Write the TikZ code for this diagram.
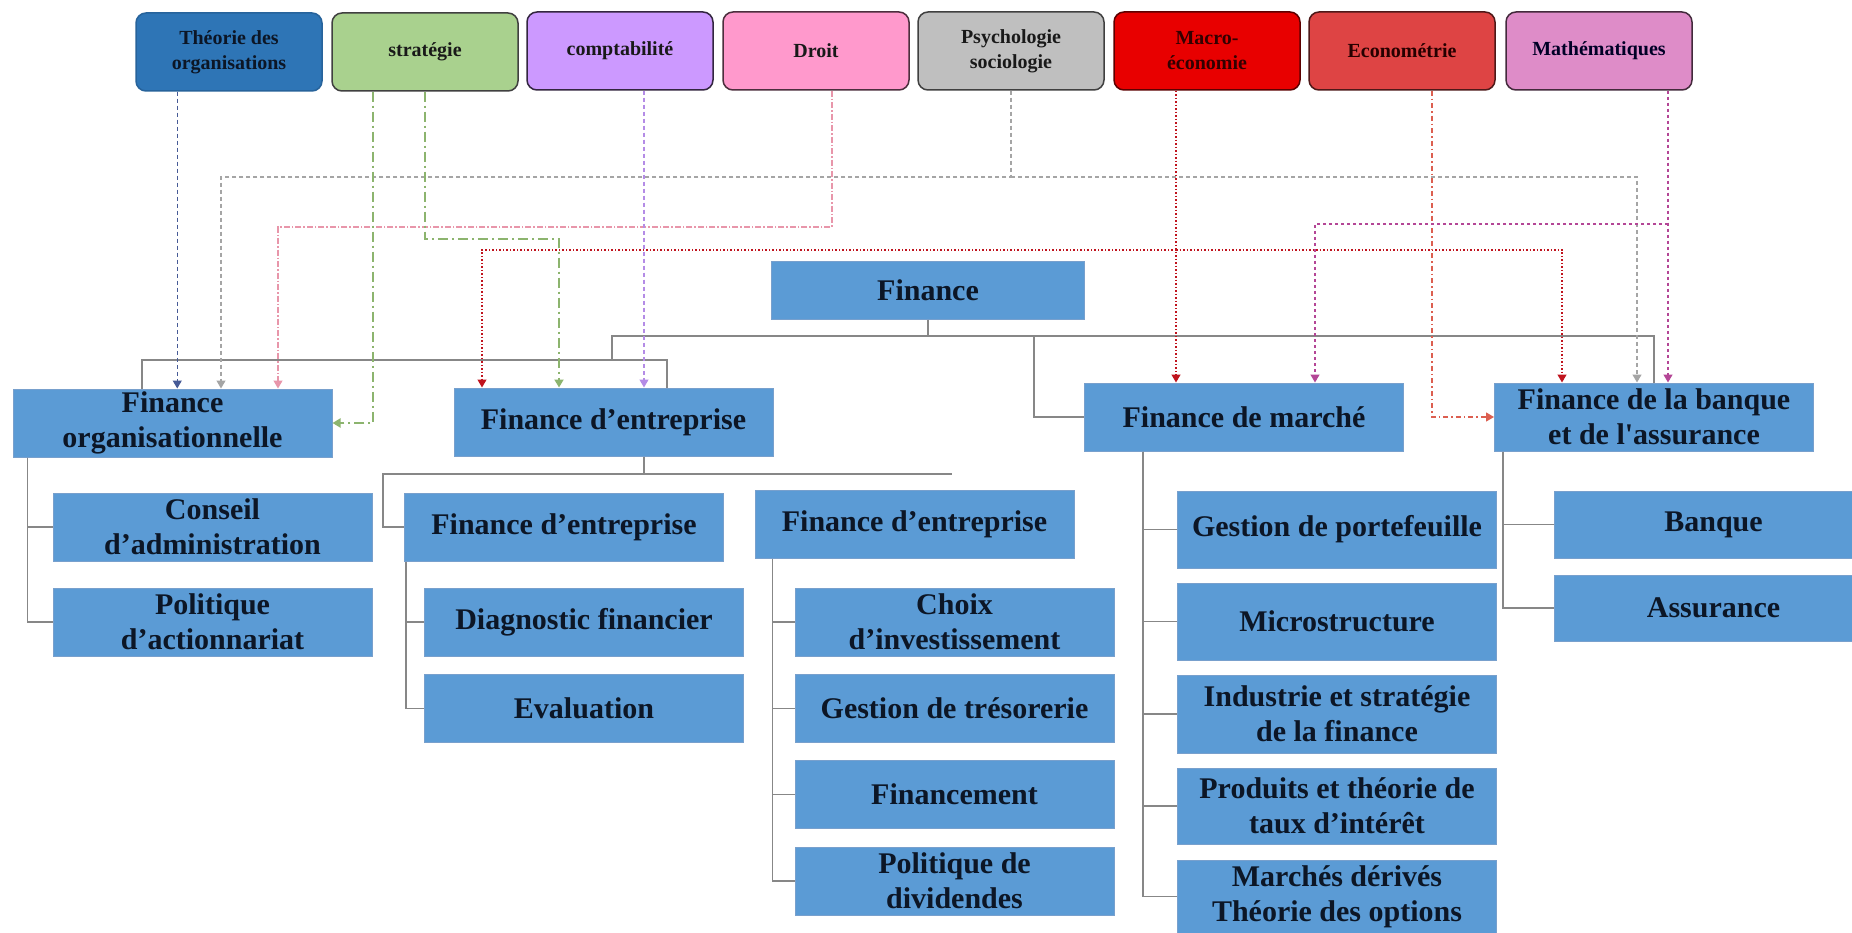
\documentclass[tikz,border=0pt]{standalone}
\usepackage{fontspec}
\setmainfont{Liberation Serif}
\usetikzlibrary{arrows.meta}
\definecolor{bbfill}{RGB}{91,155,213}
\definecolor{bbdraw}{RGB}{120,160,205}
\definecolor{txt}{RGB}{12,22,38}
\definecolor{treegray}{RGB}{135,135,135}
\definecolor{fTheo}{RGB}{46,117,182}
\definecolor{fStrat}{RGB}{169,209,142}
\definecolor{fCompt}{RGB}{204,153,255}
\definecolor{fDroit}{RGB}{255,153,204}
\definecolor{fPsy}{RGB}{191,191,191}
\definecolor{fMacro}{RGB}{232,0,0}
\definecolor{fEcon}{RGB}{222,68,68}
\definecolor{fMath}{RGB}{222,140,200}
\definecolor{cT}{RGB}{70,90,150}
\definecolor{cP}{RGB}{165,165,165}
\definecolor{cD}{RGB}{232,150,170}
\definecolor{cS}{RGB}{140,180,110}
\definecolor{cC}{RGB}{180,140,230}
\definecolor{cM}{RGB}{192,20,30}
\definecolor{cE}{RGB}{220,95,80}
\definecolor{cA}{RGB}{180,70,150}
\newcommand\boxfont{\bfseries\fontsize{30}{35}\selectfont}
\newcommand\topfont{\bfseries\fontsize{20}{25}\selectfont}
\tikzset{
  topbox/.style={rounded corners=10pt, minimum width=186pt, minimum height=78pt,
    line width=1.5pt, font=\topfont, align=center, inner sep=0pt, text=black!90},
  bb/.style={fill=bbfill, draw=bbdraw, line width=1pt, minimum width=319pt,
    minimum height=68pt, inner sep=0pt, font=\boxfont, align=center, text=txt},
  tree/.style={draw=treegray, line width=1.8pt},
  tip/.style={-{Triangle[width=9pt,length=8pt]}},
  lT/.style={cT, line width=1.3pt, dash pattern=on 4pt off 3pt, tip},
  lP/.style={cP, line width=1.3pt, dash pattern=on 4pt off 3pt, tip},
  lD/.style={cD, line width=1.3pt, dash pattern=on 6pt off 2pt on 1.5pt off 2pt, tip},
  lS/.style={cS, line width=1.8pt, dash pattern=on 10pt off 4pt on 2pt off 4pt, tip},
  lC/.style={cC, line width=1.3pt, dash pattern=on 4pt off 3pt, tip},
  lM/.style={cM, line width=1.3pt, dash pattern=on 1.5pt off 2pt, tip},
  lE/.style={cE, line width=1.3pt, dash pattern=on 5pt off 3pt on 1.5pt off 3pt, tip},
  lA/.style={cA, line width=1.3pt, dash pattern=on 3pt off 3pt, tip}
}
\begin{document}
\begin{tikzpicture}[x=1pt,y=-1pt]
\useasboundingbox (0,0) rectangle (1852,933);
\fill[white] (0,0) rectangle (1852,933);
% top boxes
\node[topbox, fill=fTheo, draw=fTheo!85!black, text=txt] (theo) at (229,52) {Théorie des\\organisations};
\node[topbox, fill=fStrat, draw=black!75] (strat) at (425,52) {stratégie};
\node[topbox, fill=fCompt, draw=black!75!fCompt] (compt) at (620,51) {comptabilité};
\node[topbox, fill=fDroit, draw=black!70!fDroit] (droit) at (816,51) {Droit};
\node[topbox, fill=fPsy, draw=black!75] (psy) at (1011,51) {Psychologie\\sociologie};
\node[topbox, fill=fMacro, draw=black!60!fMacro, text=black!80!red] (macro) at (1207,51) {Macro-\\économie};
\node[topbox, fill=fEcon, draw=black!65!fEcon, text=black!85!red] (econ) at (1402,51) {Econométrie};
\node[topbox, fill=fMath, draw=black!70!fMath, text=black!85!blue] (math) at (1599,51) {Mathématiques};
% main boxes
\node[bb, minimum width=313pt, minimum height=57pt] (fin) at (928,290.5) {Finance};
\node[bb] (fo) at (172.5,423) {Finance\\organisationnelle};
\node[bb] (fe) at (613.5,422) {Finance d’entreprise};
\node[bb] (fm) at (1244,417) {Finance de marché};
\node[bb] (fb) at (1654,417) {Finance de la banque\\et de l\textquotesingle assurance};
% sub boxes
\node[bb] (ca) at (212.5,527) {Conseil\\d’administration};
\node[bb] (pa) at (212.5,622) {Politique\\d’actionnariat};
\node[bb] (fe1) at (564,527) {Finance d’entreprise};
\node[bb] (dg) at (584,622) {Diagnostic financier};
\node[bb] (ev) at (584,708.5) {Evaluation};
\node[bb] (fe2) at (914.5,524.5) {Finance d’entreprise};
\node[bb] (ci) at (954.5,622) {Choix\\d’investissement};
\node[bb] (gt) at (954.5,708.5) {Gestion de trésorerie};
\node[bb] (fn) at (954.5,794.5) {Financement};
\node[bb] (pd) at (954.5,881) {Politique de\\dividendes};
\node[bb, minimum height=77pt] (gp) at (1337,529.5) {Gestion de portefeuille};
\node[bb, minimum height=77pt] (ms) at (1337,621.5) {Microstructure};
\node[bb, minimum height=78pt] (is) at (1337,714) {Industrie et stratégie\\de la finance};
\node[bb, minimum height=76pt] (pt) at (1337,806) {Produits et théorie de\\taux d’intérêt};
\node[bb, minimum height=73pt] (md) at (1337,896.5) {Marchés dérivés\\Théorie des options};
\node[bb, minimum height=67pt] (bq) at (1713.5,524.5) {Banque};
\node[bb, minimum height=66pt] (as) at (1713.5,608) {Assurance};
% tree connectors
\coordinate (bL) at (612,336);
\coordinate (bM) at (1034,336);
\coordinate (b2) at (612,360);
\draw[tree] (fin.south) -- (fin.south |- bL);
\draw[tree] (fb.north) |- (bL) -- (b2);
\draw[tree] ([xshift=-30.5pt]fo.north) |- (b2);
\draw[tree] ([xshift=53.5pt]fe.north) |- (b2);
\draw[tree] (bM) |- (fm.west);
\coordinate (o1) at ([xshift=15pt]fo.south west);
\draw[tree] (o1) |- (ca.west);
\draw[tree] (o1) |- (pa.west);
\coordinate (e0) at ([xshift=30.5pt]fe.south);
\coordinate (eL) at (383,474);
\coordinate (eR) at (952,474);
\draw[tree] (e0) -- (e0 |- eL);
\draw[tree] (fe1.west) -| (eL) -- (eR);
\coordinate (e1) at ([xshift=2pt]fe1.south west);
\draw[tree] (e1) |- (dg.west);
\draw[tree] (e1) |- (ev.west);
\coordinate (e2) at ([xshift=18pt]fe2.south west);
\draw[tree] (e2) |- (ci.west);
\draw[tree] (e2) |- (gt.west);
\draw[tree] (e2) |- (fn.west);
\draw[tree] (e2) |- (pd.west);
\coordinate (m1) at ([xshift=59pt]fm.south west);
\draw[tree] (m1) |- (gp.west);
\draw[tree] (m1) |- (ms.west);
\draw[tree] (m1) |- (is.west);
\draw[tree] (m1) |- (pt.west);
\draw[tree] (m1) |- (md.west);
\coordinate (k1) at ([xshift=9pt]fb.south west);
\draw[tree] (k1) |- (bq.west);
\draw[tree] (k1) |- (as.west);
% coloured influence connectors
\coordinate (tT) at ([xshift=42pt]theo.south west);
\draw[lT] (tT) -- (tT |- fo.north);
\coordinate (pL) at (221,177);
\coordinate (pR) at (1637,177);
\draw[lP] (psy.south) -- (psy.south |- pL) -| (pL |- fo.north);
\draw[lP] (psy.south |- pL) -| (pR |- fb.north);
\coordinate (dD) at ([xshift=16pt]droit.south);
\coordinate (dL) at (278,227);
\draw[lD] (dD) |- (dL) -- (dL |- fo.north);
\coordinate (sA) at ([xshift=-52pt]strat.south);
\coordinate (sC) at (559,239);
\draw[lS] (sA) |- (fo.east);
\draw[lS] (strat.south) |- (sC) -- (sC |- fe.north);
\coordinate (cc) at ([xshift=24pt]compt.south);
\draw[lC] (cc) -- (cc |- fe.north);
\coordinate (mM) at ([xshift=-31pt]macro.south);
\coordinate (mL) at (482,250);
\coordinate (mR) at (1562,250);
\draw[lM] (mM) -- (mM |- fm.north);
\draw[lM] (mM |- mL) -| (mL |- fe.north);
\draw[lM] (mM |- mL) -| (mR |- fb.north);
\coordinate (eE) at ([xshift=30pt]econ.south);
\draw[lE] (eE) |- (fb.west);
\coordinate (aM) at ([xshift=69pt]math.south);
\coordinate (aL) at (1315,224);
\draw[lA] (aM) -- (aM |- fb.north);
\draw[lA] (aM |- aL) -| (aL |- fm.north);
\end{tikzpicture}
\end{document}
